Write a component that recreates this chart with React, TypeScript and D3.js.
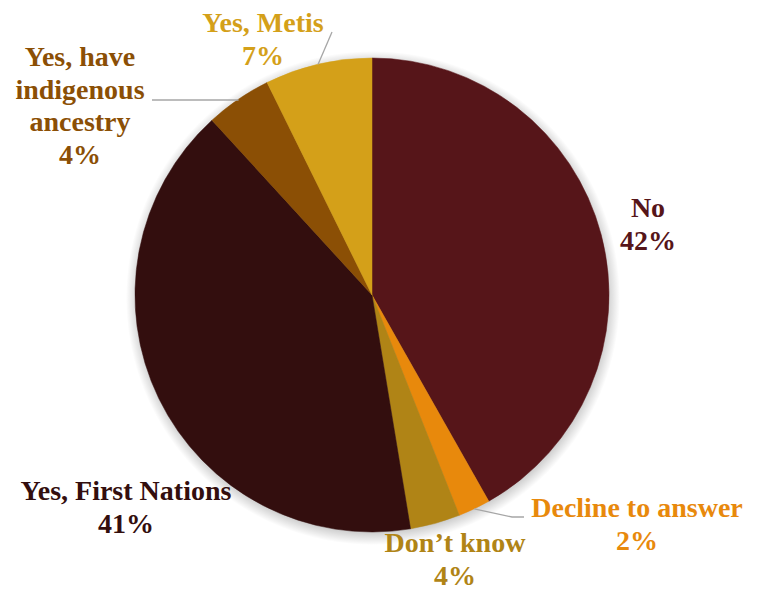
import React from "react";
import * as d3 from "d3";

const categories = ["No", "Decline to answer", "Don\u2019t know", "Yes, First Nations", "Yes, have indigenous ancestry", "Yes, Metis"];
const values = [41.8, 2.2, 3.4, 40.8, 4.5, 7.3];
const percentLabels = ["42%", "2%", "4%", "41%", "4%", "7%"];
const labelLines = [["No"], ["Decline to answer"], ["Don\u2019t know"], ["Yes, First Nations"], ["Yes, have", "indigenous", "ancestry"], ["Yes, Metis"]];
const colors = ["#561519", "#E8890C", "#B08416", "#330E0E", "#8B4F05", "#D4A019"];

const W = 765, H = 590;
const cx = 372, cy = 295, R = 237;
const FS = 28, LH = 32.5;
const SH = 10;

const labelPos: [number, number][] = [
  [648, 217],
  [637, 517],
  [455, 552],
  [126, 500],
  [80, 66],
  [263, 32],
];
const leaders: ([number, number][] | null)[] = [
  null,
  [[512, 517], [524, 517]],
  null,
  null,
  [[238, 100], [152, 100]],
  [[332, 32], [332, 32]],
];

const css = `svg.piechart text, svg.piechart text.lbl { font-family: "Liberation Serif", "Times New Roman", Times, serif !important; font-weight: 700 !important; }`;

export default function App() {
  const pie = d3.pie<number>().sort(null).value((d) => d)(values);
  const arc = d3.arc<d3.PieArcDatum<number>>().innerRadius(0).outerRadius(R);
  return (
    <svg className="piechart" width={W} height={H} style={{ position: "absolute", left: 0, top: 0 }}>
      <style>{css}</style>
      <defs>
        <radialGradient id="shg" gradientUnits="userSpaceOnUse" cx={cx + 1} cy={cy + 3} r={R + SH}>
          <stop offset={(R - SH) / (R + SH)} stopColor="#000" stopOpacity={0.35} />
          <stop offset={(R - 2) / (R + SH)} stopColor="#000" stopOpacity={0.18} />
          <stop offset={1} stopColor="#000" stopOpacity={0} />
        </radialGradient>
      </defs>
      <circle cx={cx + 1} cy={cy + 3} r={R + SH} fill="url(#shg)" />
      <g transform={`translate(${cx},${cy})`}>
        {pie.map((p, i) => (
          <path key={i} d={arc(p) || ""} fill={colors[i]} stroke={colors[i]} strokeWidth={0.5} />
        ))}
      </g>
      {pie.map((p, i) => {
        const L = leaders[i];
        if (!L) return null;
        const mid = (p.startAngle + p.endAngle) / 2;
        const sx = cx + Math.sin(mid) * R;
        const sy = cy - Math.cos(mid) * R;
        const pts = [[sx, sy], ...L];
        return (
          <polyline key={"l" + i} points={pts.map((q) => q.join(",")).join(" ")} fill="none" stroke="#A6A6A6" strokeWidth={1.3} />
        );
      })}
      {categories.map((c, i) => {
        const [x, y] = labelPos[i];
        const lines = [...labelLines[i], percentLabels[i]];
        return lines.map((t, j) => (
          <text key={c + j} className="lbl" x={x} y={y + j * LH} textAnchor="middle" fill={colors[i]} fontFamily="Liberation Serif" fontWeight="bold" fontSize={FS}>
            {t}
          </text>
        ));
      })}
    </svg>
  );
}
